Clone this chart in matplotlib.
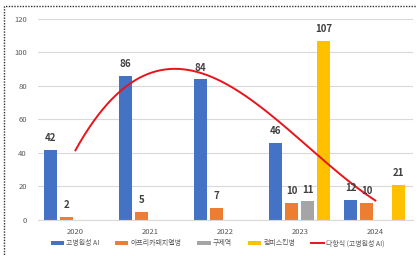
import matplotlib
matplotlib.use("Agg")
import matplotlib.pyplot as plt
import numpy as np
from matplotlib.patches import Rectangle

plt.rcParams['font.family'] = ['Noto Sans CJK KR', 'DejaVu Sans']

years = ['2020', '2021', '2022', '2023', '2024']
series_names = ['고병원성 AI', '아프리카돼지열병', '구제역', '럼피스킨병']
hpai = [42, 86, 84, 46, 12]
asf = [2, 5, 7, 10, 10]
fmd = [0, 0, 0, 11, 0]
lsd = [0, 0, 0, 107, 21]
trend_name = '다항식 (고병원성 AI)'
colors = ['#4472C4', '#ED7D31', '#A5A5A5', '#FFC000']

fig = plt.figure(figsize=(4.17, 2.56), dpi=100)
ax = fig.add_axes([0.091, 0.141, 0.899, 0.785])

x = np.arange(len(years))
step = 0.213
width = 0.172
offsets = [-1.55 * step, -0.55 * step, 0.45 * step, 1.45 * step]
handles = []
for vals, off, col, name in zip([hpai, asf, fmd, lsd], offsets, colors, series_names):
    bars = ax.bar(x + off, vals, width=width, color=col, label=name, zorder=2)
    handles.append(bars)
    for xi, v in zip(x, vals):
        if v > 0:
            ax.text(xi + off, v + 4, str(v), ha='center', va='bottom',
                    fontsize=7, fontweight='bold', color='#404040', zorder=4)

coef = np.polyfit(x, hpai, 3)
xs = np.linspace(0, len(years) - 1, 200)
line, = ax.plot(xs, np.polyval(coef, xs), color='#E8141B', lw=1.4, zorder=3,
                label=trend_name)

ax.set_xlim(-0.5, len(years) - 0.5)
ax.set_ylim(0, 120)
ax.set_yticks(range(0, 121, 20))
ax.set_xticks(x)
ax.set_xticklabels(years)
ax.tick_params(axis='both', length=0, labelsize=5.5, labelcolor='#595959')
ax.tick_params(axis='y', pad=8)
ax.tick_params(axis='x', pad=6)
ax.grid(axis='y', color='#D9D9D9', lw=0.8, zorder=0)
for s in ['top', 'right', 'left']:
    ax.spines[s].set_visible(False)
ax.spines['bottom'].set_color('#D9D9D9')

fig.legend(handles + [line], series_names + [trend_name], loc='center',
           bbox_to_anchor=(0.522, 0.05), ncol=5, frameon=False, fontsize=5,
           handlelength=1.9, handleheight=0.6, columnspacing=2.3,
           handletextpad=0.3, labelcolor='#595959')

fig.patches.append(Rectangle((0.009, -0.1), 1.2, 1.075, transform=fig.transFigure,
                             fill=False, ls=(0, (1, 1)), lw=1.0, ec='#333333'))

fig.savefig('out.png', dpi=100)
